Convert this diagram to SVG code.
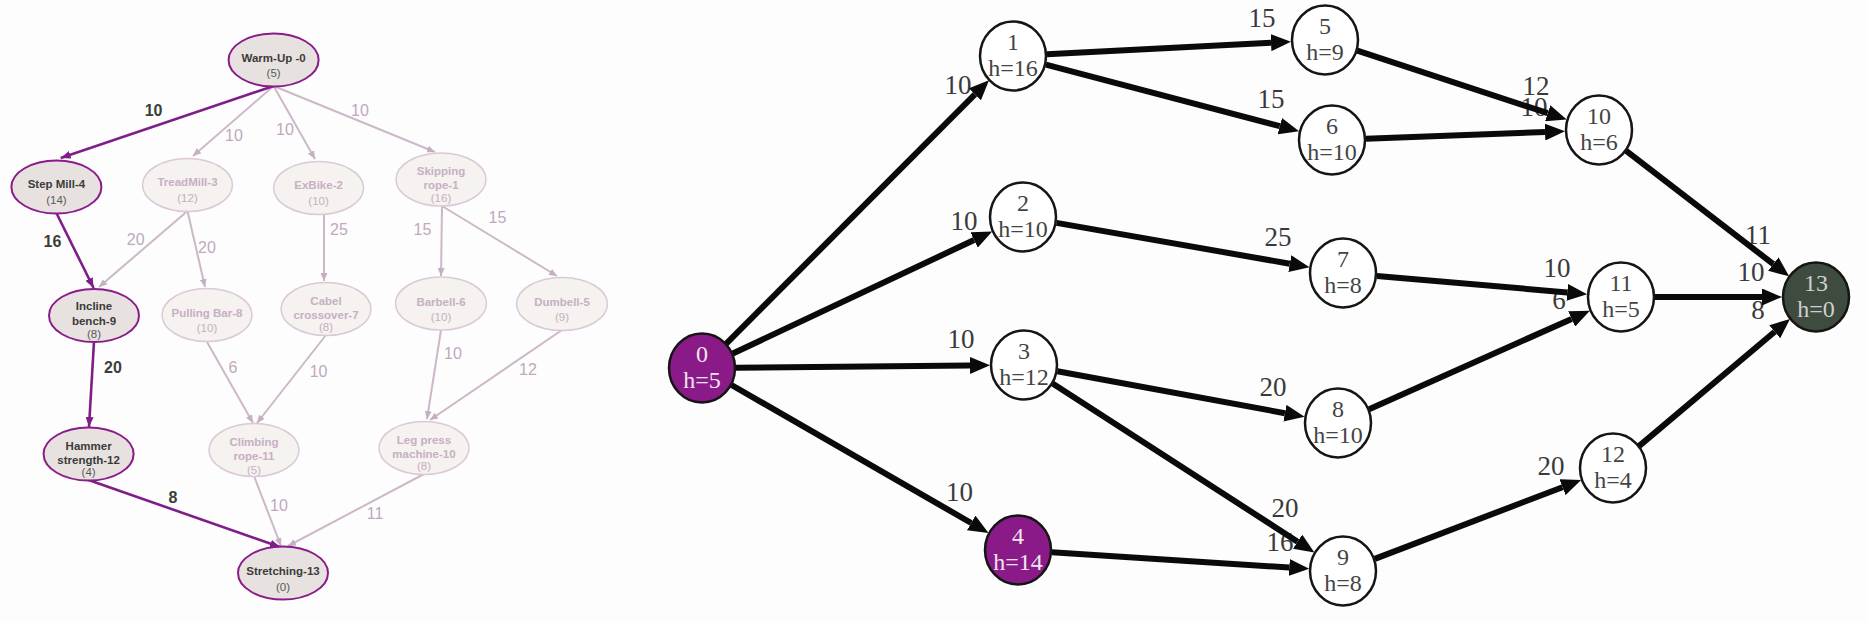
<svg xmlns="http://www.w3.org/2000/svg" width="1868" height="622" viewBox="0 0 1868 622">
<style>
.lt{font-family:"Liberation Sans",Arial,sans-serif;font-size:11.5px;text-anchor:middle}
.b{font-weight:bold}
.hl ellipse{fill:#e7e2df;stroke:#8a1c8a;stroke-width:2}
.hl text{fill:#3b3b3b}
.hl text.s{fill:#5a5a5a}
.fd ellipse{fill:#f5f2f0;stroke:#dbc9d6;stroke-width:1.5}
.fd text{fill:#c6b0c2}
.leh{stroke:#7e1f88;stroke-width:2.6;fill:none;marker-end:url(#ah)}
.lef{stroke:#cdb8c9;stroke-width:2;fill:none;marker-end:url(#af)}
.lbh{font-family:"Liberation Sans",Arial,sans-serif;font-size:16px;font-weight:bold;fill:#3a3f3a;text-anchor:middle}
.lbf{font-family:"Liberation Sans",Arial,sans-serif;font-size:16px;fill:#c0a8bd;text-anchor:middle}
.rn ellipse{fill:#ffffff;stroke:#151515;stroke-width:2.5}
.rn.p ellipse{fill:#8b1a89}
.rn.g ellipse{fill:#3e4b3f}
.rt{font-family:"Liberation Serif","Times New Roman",serif;font-size:24px;text-anchor:middle;fill:#444}
.rn.p .rt{fill:#eee6ee}
.rn.g .rt{fill:#d0d0d0}
.re{stroke:#0a0a0a;stroke-width:6;fill:none;marker-end:url(#ar)}
.rl{font-family:"Liberation Serif","Times New Roman",serif;font-size:27px;fill:#3a3a3a;text-anchor:middle}
</style>
<defs>
<marker id="ar" markerUnits="userSpaceOnUse" markerWidth="20" markerHeight="17" viewBox="0 0 20 17" refX="0" refY="8.5" orient="auto"><path d="M0,0 L20,8.5 L0,17 z" fill="#0a0a0a"/></marker>
<marker id="ah" markerUnits="userSpaceOnUse" markerWidth="10" markerHeight="8" viewBox="0 0 10 8" refX="10" refY="4" orient="auto"><path d="M0,0 L10,4 L0,8 z" fill="#7e1f88"/></marker>
<marker id="af" markerUnits="userSpaceOnUse" markerWidth="8" markerHeight="7" viewBox="0 0 8 7" refX="8" refY="3.5" orient="auto"><path d="M0,0 L8,3.5 L0,7 z" fill="#c5afc1"/></marker>
</defs>
<rect width="1868" height="622" fill="#fdfdfd"/>

<g id="left-connectors">
<line class="lef" x1="273.6" y1="86" x2="193" y2="156"/>
<line class="lef" x1="273.6" y1="86" x2="315" y2="159"/>
<line class="lef" x1="273.6" y1="86" x2="435" y2="152"/>
<line class="lef" x1="187.5" y1="211" x2="99" y2="287"/>
<line class="lef" x1="187.5" y1="211" x2="205" y2="287"/>
<line class="lef" x1="324" y1="214" x2="324" y2="281"/>
<line class="lef" x1="442" y1="206" x2="441" y2="276"/>
<line class="lef" x1="442" y1="206" x2="557" y2="276"/>
<line class="lef" x1="207" y1="342" x2="253" y2="423"/>
<line class="lef" x1="326" y1="335" x2="257" y2="423"/>
<line class="lef" x1="441" y1="330" x2="427" y2="419"/>
<line class="lef" x1="562" y1="330" x2="430" y2="420"/>
<line class="lef" x1="254" y1="476" x2="281" y2="546"/>
<line class="lef" x1="424" y1="474" x2="288" y2="546"/>
<line class="leh" x1="273.6" y1="86" x2="60.7" y2="158"/>
<line class="leh" x1="56.4" y1="213" x2="93.6" y2="288"/>
<line class="leh" x1="94" y1="341.5" x2="89" y2="427"/>
<line class="leh" x1="88.6" y1="480" x2="280" y2="547"/>
<text class="lbh" x="153.6" y="116">10</text>
<text class="lbf" x="234" y="141">10</text>
<text class="lbf" x="285" y="135">10</text>
<text class="lbf" x="360" y="116">10</text>
<text class="lbh" x="52.5" y="246.7">16</text>
<text class="lbf" x="135.7" y="245">20</text>
<text class="lbf" x="207" y="252.7">20</text>
<text class="lbf" x="339" y="235">25</text>
<text class="lbf" x="422.5" y="235">15</text>
<text class="lbf" x="497.5" y="222.7">15</text>
<text class="lbh" x="113" y="372.7">20</text>
<text class="lbf" x="233" y="372.7">6</text>
<text class="lbf" x="318.6" y="377">10</text>
<text class="lbf" x="453" y="359">10</text>
<text class="lbf" x="528" y="375">12</text>
<text class="lbh" x="173" y="502.7">8</text>
<text class="lbf" x="279" y="511">10</text>
<text class="lbf" x="375" y="519">11</text>
</g>

<g id="n-warmup" class="hl"><ellipse cx="273.6" cy="60" rx="45" ry="26.5"/><text class="lt b" x="273.6" y="62">Warm-Up -0</text><text class="lt s" x="273.6" y="77">(5)</text></g>
<g id="n-stepmill" class="hl"><ellipse cx="56.4" cy="187" rx="45" ry="26.5"/><text class="lt b" x="56.4" y="188">Step Mill-4</text><text class="lt s" x="56.4" y="204">(14)</text></g>
<g id="n-treadmill" class="fd"><ellipse cx="187.5" cy="185" rx="45" ry="26.5"/><text class="lt b" x="187.5" y="186">TreadMill-3</text><text class="lt" x="187.5" y="202">(12)</text></g>
<g id="n-exbike" class="fd"><ellipse cx="318.6" cy="188" rx="45" ry="26.5"/><text class="lt b" x="318.6" y="189">ExBike-2</text><text class="lt" x="318.6" y="205">(10)</text></g>
<g id="n-skipping" class="fd"><ellipse cx="441" cy="179.5" rx="45" ry="26.5"/><text class="lt b" x="441" y="175">Skipping</text><text class="lt b" x="441" y="189">rope-1</text><text class="lt" x="441" y="202">(16)</text></g>
<g id="n-incline" class="hl"><ellipse cx="94" cy="315.5" rx="45" ry="26.5"/><text class="lt b" x="94" y="310">Incline</text><text class="lt b" x="94" y="325">bench-9</text><text class="lt s" x="94" y="338">(8)</text></g>
<g id="n-pulling" class="fd"><ellipse cx="207" cy="315" rx="45" ry="26.5"/><text class="lt b" x="207" y="317">Pulling Bar-8</text><text class="lt" x="207" y="332">(10)</text></g>
<g id="n-cabel" class="fd"><ellipse cx="326" cy="309" rx="45" ry="26.5"/><text class="lt b" x="326" y="305">Cabel</text><text class="lt b" x="326" y="319">crossover-7</text><text class="lt" x="326" y="331">(8)</text></g>
<g id="n-barbell" class="fd"><ellipse cx="441" cy="303.5" rx="45.5" ry="26.5"/><text class="lt b" x="441" y="306">Barbell-6</text><text class="lt" x="441" y="321">(10)</text></g>
<g id="n-dumbell" class="fd"><ellipse cx="562" cy="304" rx="45.5" ry="26.5"/><text class="lt b" x="562" y="306">Dumbell-5</text><text class="lt" x="562" y="321">(9)</text></g>
<g id="n-hammer" class="hl"><ellipse cx="88.6" cy="454" rx="45" ry="26.5"/><text class="lt b" x="88.6" y="450">Hammer</text><text class="lt b" x="88.6" y="464">strength-12</text><text class="lt s" x="88.6" y="476">(4)</text></g>
<g id="n-climbing" class="fd"><ellipse cx="254" cy="450" rx="45" ry="26.5"/><text class="lt b" x="254" y="446">Climbing</text><text class="lt b" x="254" y="460">rope-11</text><text class="lt" x="254" y="474">(5)</text></g>
<g id="n-legpress" class="fd"><ellipse cx="424" cy="448" rx="45" ry="26.5"/><text class="lt b" x="424" y="444">Leg press</text><text class="lt b" x="424" y="458">machine-10</text><text class="lt" x="424" y="470">(8)</text></g>
<g id="n-stretching" class="hl"><ellipse cx="283" cy="573" rx="45" ry="26.5"/><text class="lt b" x="283" y="575">Stretching-13</text><text class="lt s" x="283" y="591">(0)</text></g>

<g id="right-connectors">
<text class="rl" x="958" y="94">10</text>
<text class="rl" x="964" y="230">10</text>
<text class="rl" x="961" y="348">10</text>
<text class="rl" x="959.5" y="501">10</text>
<text class="rl" x="1262" y="27">15</text>
<text class="rl" x="1271" y="108">15</text>
<text class="rl" x="1278" y="246">25</text>
<text class="rl" x="1273" y="396">20</text>
<text class="rl" x="1285" y="517">20</text>
<text class="rl" x="1280" y="551">16</text>
<text class="rl" x="1536" y="95">12</text>
<text class="rl" x="1534" y="116">10</text>
<text class="rl" x="1557" y="277">10</text>
<text class="rl" x="1559" y="309">6</text>
<text class="rl" x="1551" y="475">20</text>
<text class="rl" x="1758" y="244">11</text>
<text class="rl" x="1751" y="281">10</text>
<text class="rl" x="1758" y="319">8</text>
<line class="re" x1="726" y1="343.9" x2="974.9" y2="94.3"/>
<line class="re" x1="732.8" y1="353.5" x2="974.1" y2="240"/>
<line class="re" x1="736" y1="367.7" x2="970" y2="365.5"/>
<line class="re" x1="731.5" y1="385" x2="971.2" y2="523"/>
<line class="re" x1="1047" y1="54.3" x2="1271" y2="42.7"/>
<line class="re" x1="1045.9" y1="64.7" x2="1279.8" y2="126.2"/>
<line class="re" x1="1056.5" y1="222.9" x2="1289.8" y2="263.7"/>
<line class="re" x1="1057.4" y1="371.2" x2="1284.9" y2="413.2"/>
<line class="re" x1="1052.6" y1="383.4" x2="1297.6" y2="541.7"/>
<line class="re" x1="1051.9" y1="552.2" x2="1289.2" y2="567.5"/>
<line class="re" x1="1357.3" y1="50.6" x2="1547.7" y2="113.2"/>
<line class="re" x1="1366" y1="138.7" x2="1545" y2="132"/>
<line class="re" x1="1376.9" y1="275.9" x2="1567.2" y2="292.4"/>
<line class="re" x1="1369.1" y1="409.2" x2="1571.6" y2="318.9"/>
<line class="re" x1="1374.8" y1="558.9" x2="1562.5" y2="487.2"/>
<line class="re" x1="1625.9" y1="150.7" x2="1773.3" y2="264.1"/>
<line class="re" x1="1655" y1="297" x2="1762" y2="297"/>
<line class="re" x1="1639" y1="446.1" x2="1774.7" y2="331.8"/>
</g>

<g id="r0" class="rn p"><ellipse cx="702" cy="368" rx="33" ry="34.5"/><text class="rt" x="702" y="362">0</text><text class="rt" x="702" y="388">h=5</text></g>
<g id="r1" class="rn"><ellipse cx="1013" cy="56" rx="33" ry="34.5"/><text class="rt" x="1013" y="50">1</text><text class="rt" x="1013" y="76">h=16</text></g>
<g id="r2" class="rn"><ellipse cx="1023" cy="217" rx="33" ry="34.5"/><text class="rt" x="1023" y="211">2</text><text class="rt" x="1023" y="237">h=10</text></g>
<g id="r3" class="rn"><ellipse cx="1024" cy="365" rx="33" ry="34.5"/><text class="rt" x="1024" y="359">3</text><text class="rt" x="1024" y="385">h=12</text></g>
<g id="r4" class="rn p"><ellipse cx="1018" cy="550" rx="33" ry="34.5"/><text class="rt" x="1018" y="544">4</text><text class="rt" x="1018" y="570">h=14</text></g>
<g id="r5" class="rn"><ellipse cx="1325" cy="40" rx="33" ry="34.5"/><text class="rt" x="1325" y="34">5</text><text class="rt" x="1325" y="60">h=9</text></g>
<g id="r6" class="rn"><ellipse cx="1332" cy="140" rx="33" ry="34.5"/><text class="rt" x="1332" y="134">6</text><text class="rt" x="1332" y="160">h=10</text></g>
<g id="r7" class="rn"><ellipse cx="1343" cy="273" rx="33" ry="34.5"/><text class="rt" x="1343" y="267">7</text><text class="rt" x="1343" y="293">h=8</text></g>
<g id="r8" class="rn"><ellipse cx="1338" cy="423" rx="33" ry="34.5"/><text class="rt" x="1338" y="417">8</text><text class="rt" x="1338" y="443">h=10</text></g>
<g id="r9" class="rn"><ellipse cx="1343" cy="571" rx="33" ry="34.5"/><text class="rt" x="1343" y="565">9</text><text class="rt" x="1343" y="591">h=8</text></g>
<g id="r10" class="rn"><ellipse cx="1599" cy="130" rx="33" ry="34.5"/><text class="rt" x="1599" y="124">10</text><text class="rt" x="1599" y="150">h=6</text></g>
<g id="r11" class="rn"><ellipse cx="1621" cy="297" rx="33" ry="34.5"/><text class="rt" x="1621" y="291">11</text><text class="rt" x="1621" y="317">h=5</text></g>
<g id="r12" class="rn"><ellipse cx="1613" cy="468" rx="33" ry="34.5"/><text class="rt" x="1613" y="462">12</text><text class="rt" x="1613" y="488">h=4</text></g>
<g id="r13" class="rn g"><ellipse cx="1816" cy="297" rx="33" ry="34.5"/><text class="rt" x="1816" y="291">13</text><text class="rt" x="1816" y="317">h=0</text></g>
</svg>
